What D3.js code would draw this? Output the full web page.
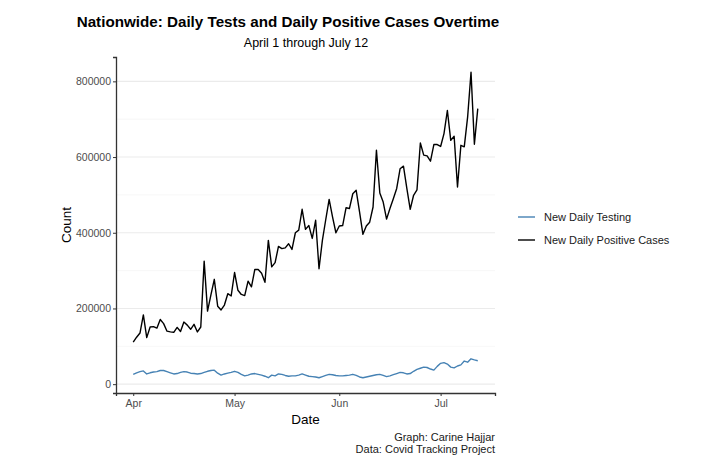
<!DOCTYPE html>
<html>
<head>
<meta charset="utf-8">
<script src="https://cdn.jsdelivr.net/npm/d3@7"></script>
<style>
body { margin: 0; background: #fff; }
text { font-family: "Liberation Sans", Arial, sans-serif; }
</style>
</head>
<body>
<div id="chart"></div>
<script>
// daily values, Apr 1 .. Jul 12 (thousands)
var startDate = "2020-04-01";
var testing = [26,30,33,35,27,30,32,33,36,36,33,30,27,28,31,33,32,29,28,27,
  28,31,34,36,37,29,24,27,29,31,34,31,26,22,24,27,28,26,24,21,
  17,24,22,27,26,23,21,22,22,24,27,24,21,20,19,17,20,23,26,25,
  23,22,22,23,24,26,23,19,17,19,21,23,25,26,23,20,22,25,28,31,
  30,27,28,34,39,42,45,44,40,37,47,55,57,53,45,43,48,51,61,58,
  67,64,62];
var positive = [111,124,135,183,123,151,152,148,171,160,140,138,137,150,139,164,156,145,158,138,
  151,325,193,236,277,206,196,209,239,233,295,248,237,234,272,257,303,303,293,269,
  380,310,321,364,358,360,371,356,400,407,462,409,419,385,433,305,380,435,488,442,
  400,418,419,466,464,503,512,455,396,418,428,468,618,505,481,436,464,490,517,569,
  576,517,462,499,513,637,605,603,589,633,633,628,662,723,644,655,521,631,627,706,
  824,634,728];
var seriesNames = ["New Daily Testing", "New Daily Positive Cases"];
var seriesColors = ["#4682b4", "#000000"];
var yTicks = [0, 200000, 400000, 600000, 800000];
var xTickLabels = ["Apr", "May", "Jun", "Jul"];
var xTickDates = ["2020-04-01", "2020-05-01", "2020-06-01", "2020-07-01"];

var W = 716, H = 464;
var pLeft = 116, pRight = 495, pTop = 57, pBottom = 393;

var parse = d3.timeParse("%Y-%m-%d");
var d0 = parse(startDate);
function mk(arr) {
  return arr.map((v, i) => ({date: d3.timeDay.offset(d0, i), value: v * 1000}));
}
var data = [mk(testing), mk(positive)];

var all = testing.concat(positive).map(v => v * 1000);
var ymin = d3.min(all), ymax = d3.max(all);
var pad = (ymax - ymin) * 0.05;
var y = d3.scaleLinear().domain([ymin - pad, ymax + pad]).range([pBottom, pTop]);

var dEnd = d3.timeDay.offset(d0, testing.length - 1);
var span = dEnd - d0;
var x = d3.scaleTime()
  .domain([new Date(+d0 - span * 0.05), new Date(+dEnd + span * 0.05)])
  .range([pLeft, pRight]);

var svg = d3.select("#chart").append("svg")
  .attr("width", W).attr("height", H);

// grid lines, major and minor
var minor = [100000, 300000, 500000, 700000];
svg.append("g").selectAll("line")
  .data(minor)
  .enter().append("line")
  .attr("x1", pLeft).attr("x2", pRight)
  .attr("y1", d => y(d)).attr("y2", d => y(d))
  .attr("stroke", "#f2f2f2").attr("stroke-width", 0.6);
svg.append("g").selectAll("line")
  .data(yTicks)
  .enter().append("line")
  .attr("x1", pLeft).attr("x2", pRight)
  .attr("y1", d => y(d)).attr("y2", d => y(d))
  .attr("stroke", "#ebebeb").attr("stroke-width", 1.1);

var line = d3.line().x(d => x(d.date)).y(d => y(d.value));

svg.append("g").selectAll("path")
  .data(data)
  .enter().append("path")
  .attr("d", line)
  .attr("fill", "none")
  .attr("stroke", (d, i) => seriesColors[i])
  .attr("stroke-width", 1.4)
  .attr("stroke-linejoin", "round");

// axes
var yAxis = d3.axisLeft(y).tickValues(yTicks).tickFormat(d3.format("d")).tickSizeOuter(0).tickSize(3);
var gy = svg.append("g").attr("transform", "translate(" + pLeft + ",0)").call(yAxis);
var xAxis = d3.axisBottom(x).tickValues(xTickDates.map(parse))
  .tickFormat((d, i) => xTickLabels[i]).tickSizeOuter(0).tickSize(3);
var gx = svg.append("g").attr("transform", "translate(0," + pBottom + ")").call(xAxis);

[gx, gy].forEach(function(g) {
  g.select(".domain").attr("stroke", "#333").attr("stroke-width", 1.3);
  g.selectAll(".tick line").attr("stroke", "#333");
  g.selectAll(".tick text").attr("fill", "#4d4d4d").attr("font-size", 10.5)
    .style("font-family", "Liberation Sans, Arial, sans-serif");
});
gy.selectAll(".tick text").attr("x", -5);
gx.selectAll(".tick text").attr("y", 7);

// titles
svg.append("text").attr("x", 288).attr("y", 27)
  .attr("text-anchor", "middle").attr("font-size", 15.2).attr("font-weight", "bold")
  .text("Nationwide: Daily Tests and Daily Positive Cases Overtime");
svg.append("text").attr("x", 306).attr("y", 47)
  .attr("text-anchor", "middle").attr("font-size", 12.5)
  .text("April 1 through July 12");

svg.append("text").attr("x", (pLeft + pRight) / 2).attr("y", 424)
  .attr("text-anchor", "middle").attr("font-size", 13.5).text("Date");
svg.append("text")
  .attr("transform", "translate(71," + ((pTop + pBottom) / 2) + ") rotate(-90)")
  .attr("text-anchor", "middle").attr("font-size", 13.5).text("Count");

// caption
svg.append("text").attr("x", pRight).attr("y", 441)
  .attr("text-anchor", "end").attr("font-size", 11).attr("fill", "#1a1a1a")
  .text("Graph: Carine Hajjar");
svg.append("text").attr("x", pRight).attr("y", 453)
  .attr("text-anchor", "end").attr("font-size", 11).attr("fill", "#1a1a1a")
  .text("Data: Covid Tracking Project");

// legend
var lg = svg.append("g").selectAll("g")
  .data(seriesNames)
  .enter().append("g")
  .attr("transform", (d, i) => "translate(518," + (217 + i * 23) + ")");
lg.append("line").attr("x1", 0).attr("x2", 17)
  .attr("stroke", (d, i) => seriesColors[i]).attr("stroke-width", 1.4);
lg.append("text").attr("x", 26).attr("y", 4)
  .attr("font-size", 11).attr("fill", "#1a1a1a").text(d => d);
</script>
</body>
</html>
